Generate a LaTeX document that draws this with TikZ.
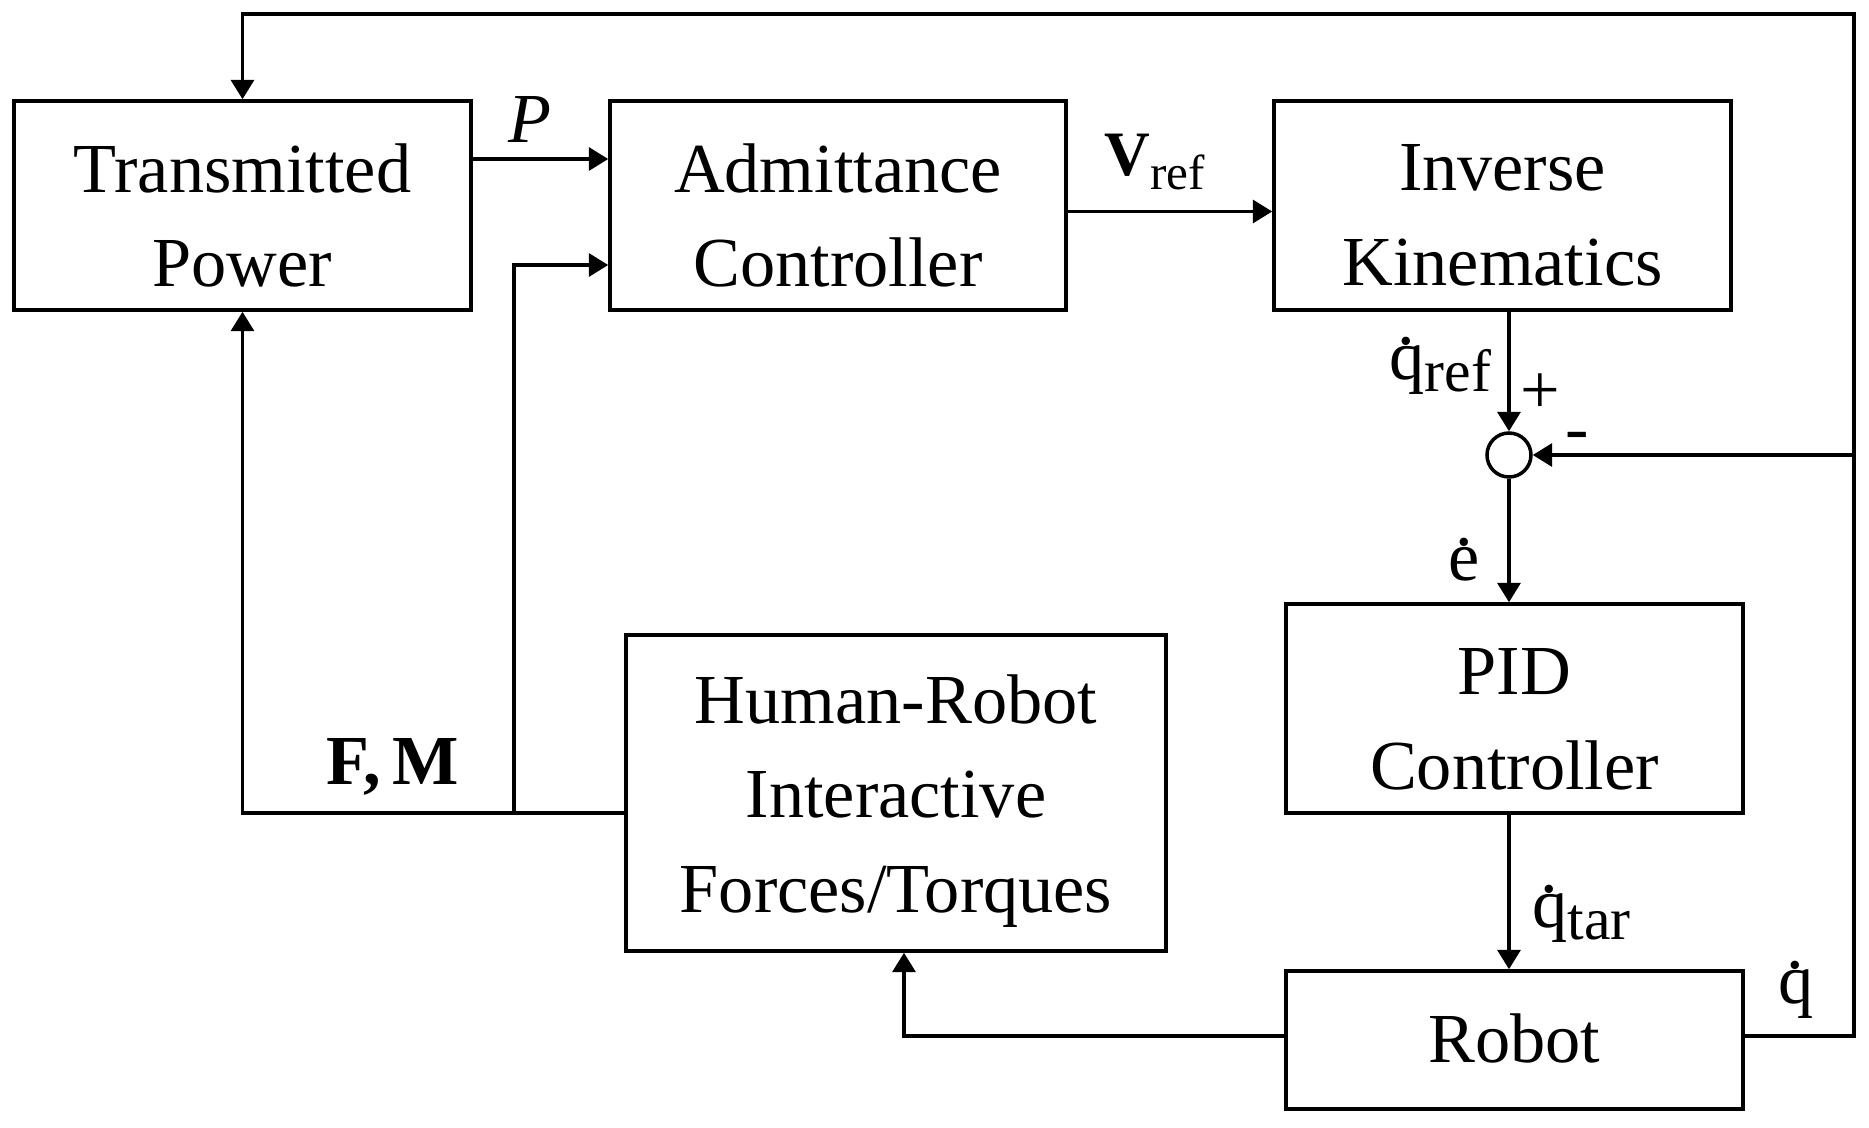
\documentclass[tikz,border=0pt]{standalone}
\usepackage{fontspec}
\setmainfont{Liberation Serif}
\usetikzlibrary{positioning, calc, arrows.meta}
\newcommand{\qdot}{\leavevmode\rlap{\hspace{0.11em}\raisebox{0.5em}{.}}q}
\newcommand{\edot}{\leavevmode\rlap{\hspace{0.1em}\raisebox{0.5em}{.}}e}

\begin{document}
\begin{tikzpicture}[
  blk/.style={draw, line width=1pt, minimum width=4.57cm, minimum height=2.09cm, inner sep=0pt},
  txt/.style={align=center, inner sep=0pt, font=\fontsize{20}{27}\selectfont},
  arr/.style={line width=1pt, -{Triangle[length=5.5pt,width=6.5pt]}},
  lbl/.style={inner sep=0pt, font=\fontsize{20}{24}\selectfont}]

  \useasboundingbox (0,0) rectangle (18.69,-11.28);

  \node[blk] (tp) at (2.425,-2.055) {};
  \node[blk, minimum width=4.56cm] (adm) at (8.38,-2.055) {};
  \node[blk] (ik) at (15.025,-2.055) {};
  \node[draw, circle, line width=1pt, minimum size=0.44cm, inner sep=0pt] (sum) at (15.09,-4.55) {};
  \node[blk] (pid) at (15.145,-7.085) {};
  \node[blk, minimum height=1.38cm] (rob) at (15.145,-10.40) {};
  \node[blk, minimum width=5.40cm, minimum height=3.16cm] (hr) at (8.96,-7.93) {};

  \node[txt] (tptxt) at ([yshift=-0.1cm]tp.center) {Transmitted\\Power};
  \node[txt] (admtxt) at ([yshift=-0.1cm]adm.center) {Admittance\\Controller};
  \node[txt] (iktxt) at ([yshift=-0.1cm]ik.center) {Inverse\\Kinematics};
  \node[txt] (pidtxt) at ([yshift=-0.11cm]pid.center) {PID\\Controller};
  \node[txt] (robtxt) at ([yshift=0.02cm]rob.center) {Robot};
  \node[txt] (hrtxt) at ([yshift=-0.08cm]hr.center) {Human-Robot\\Interactive\\Forces/Torques};

  \coordinate (tr) at (18.54,-0.14);
  \coordinate (fm) at (2.48,-8.13);
  \coordinate (br) at (5.14,-8.13);
  \coordinate (ro) at ([yshift=0.04cm]rob.east);
  \coordinate (ri) at ([yshift=0.04cm]rob.west);

  \draw[arr] ([yshift=0.465cm]tp.east) -- ([yshift=0.465cm]adm.west);
  \draw[arr] (br) |- ([yshift=-0.595cm]adm.west);
  \draw[arr] ([yshift=-0.06cm]adm.east) -- ([yshift=-0.06cm]ik.west);
  \draw[arr] (ik.south -| sum) -- (sum.north);
  \draw[arr] (sum.south) -- (sum |- pid.north);
  \draw[arr] (sum |- pid.south) -- (sum |- rob.north);
  \draw[arr] (ro) -| (tr) -| (tp.north);
  \draw[arr] (sum -| tr) -- (sum.east);
  \draw[arr] (ri) -| ([xshift=0.08cm]hr.south);
  \draw[arr] (hr.west |- fm) -| (tp.south);

  \node[lbl] (plbl) at (5.30,-1.19) {\textit{P}};
  \node[lbl] (vlbl) at (11.55,-1.62)
       {\fontsize{18}{20}\selectfont\textbf{V}\raisebox{-0.5ex}{\fontsize{14}{14}\selectfont ref}};
  \node[lbl, anchor=east] (qref) at (14.92,-3.66) {\qdot\raisebox{-0.35ex}{\fontsize{17}{17}\selectfont ref}};
  \node[lbl] (plus) at (15.40,-3.94) {+};
  \node[lbl] (minus) at (15.77,-4.42) {-};
  \node[lbl] (elbl) at (14.64,-5.60) {\edot};
  \node[lbl, anchor=west] (qtar) at (15.32,-9.14) {\qdot\raisebox{-0.35ex}{\fontsize{17}{17}\selectfont tar}};
  \node[lbl] (qlbl) at (17.96,-9.90) {\qdot};
  \node[lbl] (fmlbl) at (3.93,-7.67) {\textbf{F,\,M}};
\end{tikzpicture}
\end{document}
